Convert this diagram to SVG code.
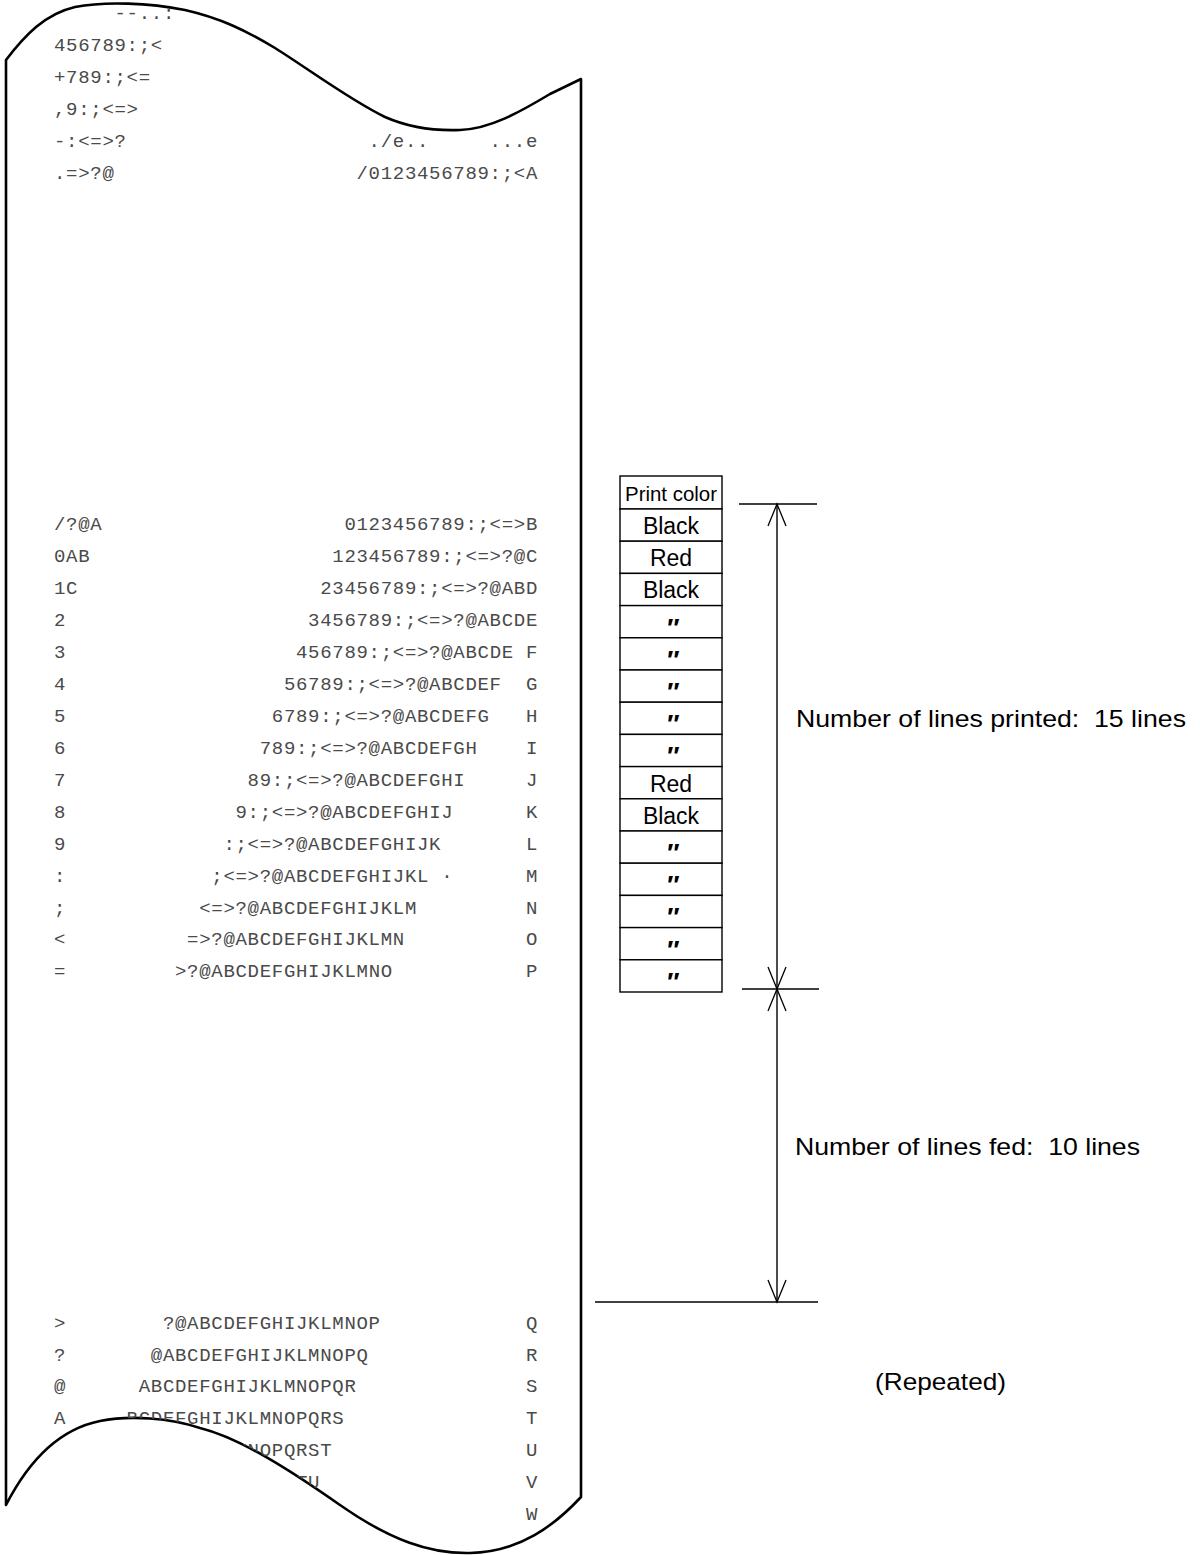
<svg xmlns="http://www.w3.org/2000/svg" width="1200" height="1555" viewBox="0 0 1200 1555">
<style>
.p{font-family:"Liberation Mono","DejaVu Sans Mono",monospace;font-size:19px;letter-spacing:0.7px;fill:#4a4a4a}
.lbl{font-family:"Liberation Sans",Arial,Helvetica,sans-serif;font-size:24px;fill:#000}
.cell{fill:#fff;stroke:#000;stroke-width:1.4}
.ct{font-family:"Liberation Sans",Arial,Helvetica,sans-serif;font-size:23px;fill:#000;text-anchor:middle}
.hd{font-size:20px}
.dit{font-family:"Liberation Sans","DejaVu Sans",sans-serif;font-size:26px;font-weight:bold;font-style:italic;fill:#000;text-anchor:middle}
.dim{stroke:#000;stroke-width:1.4;fill:none}
</style>
<defs>
<path id="paperShape" d="M 6 60 C 25 35, 45 14, 75 7 C 105 1, 150 3, 185 10 C 220 18, 245 30, 275 48 C 310 70, 350 100, 385 117 C 410 128, 435 131, 460 130 C 490 129, 520 112, 550 94 L 581 79 L 581 1497 C 555 1525, 520 1552, 470 1553 C 430 1554, 390 1540, 340 1505 C 290 1470, 240 1438, 200 1428 C 170 1418, 130 1415, 100 1421 C 55 1430, 25 1468, 6 1505 Z"/>
<clipPath id="paperClip"><use href="#paperShape"/></clipPath>
<marker id="arr" markerUnits="userSpaceOnUse" viewBox="-24 -11 26 22" refX="0" refY="0" markerWidth="26" markerHeight="22" orient="auto-start-reverse">
<path d="M-22,-9 L0,0 L-22,9" fill="none" stroke="#000" stroke-width="1.3"/>
</marker>
</defs>
<rect width="1200" height="1555" fill="#fff"/>

<g id="paper">
<use href="#paperShape" fill="#fff" stroke="#000" stroke-width="2.6" stroke-linejoin="round"/>
<g id="printout" clip-path="url(#paperClip)">
<text class="p" x="114.5" y="19.4">--..:</text>
<text class="p" x="54" y="51.4">456789:;&lt;</text>
<text class="p" x="54" y="83.3">+789:;&lt;=</text>
<text class="p" x="54" y="115.2">,9:;&lt;=&gt;</text>
<text class="p" x="54" y="147.1">-:&lt;=&gt;?</text>
<text class="p" x="368.6" y="147.1">./e..</text>
<text class="p" x="489.6" y="147.1">...e</text>
<text class="p" x="54" y="179.1">.=&gt;?@</text>
<text class="p" x="356.5" y="179.1">/0123456789:;&lt;A</text>

<text class="p" x="54" y="530.3">/?@A</text>
<text class="p" x="344.4" y="530.3">0123456789:;&lt;=&gt;B</text>
<text class="p" x="54" y="562.2">0AB</text>
<text class="p" x="332.3" y="562.2">123456789:;&lt;=&gt;?@C</text>
<text class="p" x="54" y="594.2">1C</text>
<text class="p" x="320.2" y="594.2">23456789:;&lt;=&gt;?@ABD</text>
<text class="p" x="54" y="626.1">2</text>
<text class="p" x="308.1" y="626.1">3456789:;&lt;=&gt;?@ABCDE</text>
<text class="p" x="54" y="658.0">3</text>
<text class="p" x="296" y="658.0">456789:;&lt;=&gt;?@ABCDE</text>
<text class="p" x="525.9" y="658.0">F</text>
<text class="p" x="54" y="690.0">4</text>
<text class="p" x="283.9" y="690.0">56789:;&lt;=&gt;?@ABCDEF</text>
<text class="p" x="525.9" y="690.0">G</text>
<text class="p" x="54" y="721.9">5</text>
<text class="p" x="271.8" y="721.9">6789:;&lt;=&gt;?@ABCDEFG</text>
<text class="p" x="525.9" y="721.9">H</text>
<text class="p" x="54" y="753.8">6</text>
<text class="p" x="259.7" y="753.8">789:;&lt;=&gt;?@ABCDEFGH</text>
<text class="p" x="525.9" y="753.8">I</text>
<text class="p" x="54" y="785.7">7</text>
<text class="p" x="247.6" y="785.7">89:;&lt;=&gt;?@ABCDEFGHI</text>
<text class="p" x="525.9" y="785.7">J</text>
<text class="p" x="54" y="817.7">8</text>
<text class="p" x="235.5" y="817.7">9:;&lt;=&gt;?@ABCDEFGHIJ</text>
<text class="p" x="525.9" y="817.7">K</text>
<text class="p" x="54" y="849.6">9</text>
<text class="p" x="223.4" y="849.6">:;&lt;=&gt;?@ABCDEFGHIJK</text>
<text class="p" x="525.9" y="849.6">L</text>
<text class="p" x="54" y="881.5">:</text>
<text class="p" x="211.3" y="881.5">;&lt;=&gt;?@ABCDEFGHIJKL</text>
<text class="p" x="441.2" y="881.5">·</text>
<text class="p" x="525.9" y="881.5">M</text>
<text class="p" x="54" y="913.5">;</text>
<text class="p" x="199.2" y="913.5">&lt;=&gt;?@ABCDEFGHIJKLM</text>
<text class="p" x="525.9" y="913.5">N</text>
<text class="p" x="54" y="945.4">&lt;</text>
<text class="p" x="187.1" y="945.4">=&gt;?@ABCDEFGHIJKLMN</text>
<text class="p" x="525.9" y="945.4">O</text>
<text class="p" x="54" y="977.3">=</text>
<text class="p" x="175" y="977.3">&gt;?@ABCDEFGHIJKLMNO</text>
<text class="p" x="525.9" y="977.3">P</text>

<text class="p" x="54" y="1328.6">&gt;</text>
<text class="p" x="162.9" y="1328.6">?@ABCDEFGHIJKLMNOP</text>
<text class="p" x="525.9" y="1328.6">Q</text>
<text class="p" x="54" y="1360.5">?</text>
<text class="p" x="150.8" y="1360.5">@ABCDEFGHIJKLMNOPQ</text>
<text class="p" x="525.9" y="1360.5">R</text>
<text class="p" x="54" y="1392.4">@</text>
<text class="p" x="138.7" y="1392.4">ABCDEFGHIJKLMNOPQR</text>
<text class="p" x="525.9" y="1392.4">S</text>
<text class="p" x="54" y="1424.3">A</text>
<text class="p" x="126.6" y="1424.3">BCDEFGHIJKLMNOPQRS</text>
<text class="p" x="525.9" y="1424.3">T</text>
<text class="p" x="235.5" y="1456.3">MNOPQRST</text>
<text class="p" x="525.9" y="1456.3">U</text>
<text class="p" x="296" y="1488.2">TU</text>
<text class="p" x="525.9" y="1488.2">V</text>
<text class="p" x="525.9" y="1520.1">W</text>
</g>
</g>

<g id="color-table">
<g id="cell-header"><rect class="cell" x="620" y="476" width="102" height="33"/><text class="ct hd" x="671" y="501" textLength="92" lengthAdjust="spacingAndGlyphs">Print color</text></g>
<g id="cell-1"><rect class="cell" x="620" y="509" width="102" height="32.2"/><text class="ct" x="671" y="533.6">Black</text></g>
<g id="cell-2"><rect class="cell" x="620" y="541.2" width="102" height="32.2"/><text class="ct" x="671" y="565.8">Red</text></g>
<g id="cell-3"><rect class="cell" x="620" y="573.4" width="102" height="32.2"/><text class="ct" x="671" y="598">Black</text></g>
<g id="cell-4"><rect class="cell" x="620" y="605.6" width="102" height="32.2"/><text class="dit" x="672" y="636.6">″</text></g>
<g id="cell-5"><rect class="cell" x="620" y="637.8" width="102" height="32.2"/><text class="dit" x="672" y="668.8">″</text></g>
<g id="cell-6"><rect class="cell" x="620" y="670" width="102" height="32.2"/><text class="dit" x="672" y="701">″</text></g>
<g id="cell-7"><rect class="cell" x="620" y="702.2" width="102" height="32.2"/><text class="dit" x="672" y="733.2">″</text></g>
<g id="cell-8"><rect class="cell" x="620" y="734.4" width="102" height="32.2"/><text class="dit" x="672" y="765.4">″</text></g>
<g id="cell-9"><rect class="cell" x="620" y="766.6" width="102" height="32.2"/><text class="ct" x="671" y="792">Red</text></g>
<g id="cell-10"><rect class="cell" x="620" y="798.8" width="102" height="32.2"/><text class="ct" x="671" y="823.6">Black</text></g>
<g id="cell-11"><rect class="cell" x="620" y="831" width="102" height="32.2"/><text class="dit" x="672" y="862">″</text></g>
<g id="cell-12"><rect class="cell" x="620" y="863.2" width="102" height="32.2"/><text class="dit" x="672" y="894.2">″</text></g>
<g id="cell-13"><rect class="cell" x="620" y="895.4" width="102" height="32.2"/><text class="dit" x="672" y="926.4">″</text></g>
<g id="cell-14"><rect class="cell" x="620" y="927.6" width="102" height="32.2"/><text class="dit" x="672" y="958.6">″</text></g>
<g id="cell-15"><rect class="cell" x="620" y="959.8" width="102" height="32.2"/><text class="dit" x="672" y="990.8">″</text></g>
</g>

<g id="connectors">
<line class="dim" x1="739" y1="504" x2="817" y2="504"/>
<line class="dim" x1="742" y1="989" x2="819" y2="989"/>
<line class="dim" x1="595" y1="1302" x2="818" y2="1302"/>
<line class="dim" x1="777" y1="504" x2="777" y2="989" marker-start="url(#arr)" marker-end="url(#arr)"/>
<line class="dim" x1="777" y1="989" x2="777" y2="1302" marker-start="url(#arr)" marker-end="url(#arr)"/>
</g>

<g id="labels">
<text class="lbl" x="796" y="727" xml:space="preserve" textLength="390" lengthAdjust="spacingAndGlyphs">Number of lines printed:  15 lines</text>
<text class="lbl" x="795" y="1155" xml:space="preserve" textLength="345" lengthAdjust="spacingAndGlyphs">Number of lines fed:  10 lines</text>
<text class="lbl" x="875" y="1390" textLength="131" lengthAdjust="spacingAndGlyphs">(Repeated)</text>
</g>
</svg>
